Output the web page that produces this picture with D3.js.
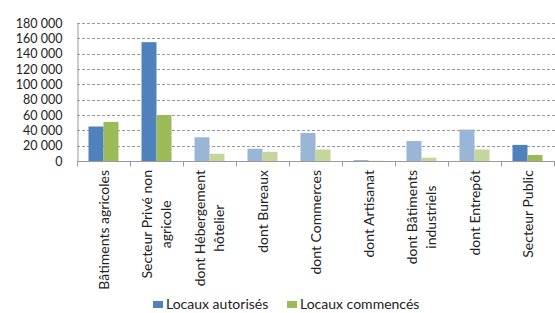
<!DOCTYPE html>
<html>
<head>
<meta charset="utf-8">
<script src="https://cdn.jsdelivr.net/npm/d3@7"></script>
<style>
  body { margin: 0; background: #fff; }
  svg { display: block; font-family: "Lato", "Liberation Sans", sans-serif; }
</style>
</head>
<body>
<div id="chart"></div>
<script>
// values
const categories = [
  ["Bâtiments agricoles"],
  ["Secteur Privé non", "agricole"],
  ["dont Hébergement", "hôtelier"],
  ["dont Bureaux"],
  ["dont Commerces"],
  ["dont Artisanat"],
  ["dont Bâtiments", "industriels"],
  ["dont Entrepôt"],
  ["Secteur Public"]
]
const autorises = [45000, 155000, 31000, 16000, 36500, 1300, 26000, 41000, 21000]
const commences = [51000, 60000, 9500, 12000, 15000, 300, 4300, 15000, 7800]
// "dont ..." rows are drawn hatched in the original
const detail = [false, false, true, true, true, true, true, true, false]
const yTicks = [0, 20000, 40000, 60000, 80000, 100000, 120000, 140000, 160000, 180000]
const seriesNames = ["Locaux autorisés", "Locaux commencés"]

const width = 555, height = 313
const margin = {left: 77, right: 1, top: 23, bottom: 152}

const svg = d3.select("#chart").append("svg")
    .attr("width", width)
    .attr("height", height)

const defs = svg.append("defs")
//dithered fill for the detail bars
function checker(id, dark, light) {
    const p = defs.append("pattern")
        .attr("id", id)
        .attr("width", 2).attr("height", 2)
        .attr("patternUnits", "userSpaceOnUse")
    p.append("rect").attr("width", 2).attr("height", 2).attr("fill", light)
    p.append("rect").attr("width", 1).attr("height", 1).attr("fill", dark)
    p.append("rect").attr("x", 1).attr("y", 1).attr("width", 1).attr("height", 1).attr("fill", dark)
}
checker("patBlue", "#6790c2", "#cddbeb")
checker("patGreen", "#a5c168", "#e2ebcd")

const x = d3.scaleBand()
    .domain(d3.range(categories.length))
    .range([margin.left, width - margin.right])

const y = d3.scaleLinear()
    .domain([0, 180000])
    .range([height - margin.bottom, margin.top])

const fmt = v => d3.format(",")(v).replace(/,/g, " ")

//gridlines
svg.append("g")
    .selectAll("line")
    .data(yTicks.slice(1))
    .join("line")
    .attr("x1", margin.left).attr("x2", width)
    .attr("y1", d => Math.round(y(d)) + 0.5).attr("y2", d => Math.round(y(d)) + 0.5)
    .attr("stroke", "#9a9a9a")
    .attr("stroke-dasharray", "3,2")

//y axis
const yAxis = svg.append("g")
    .attr("transform", `translate(${margin.left + 0.5},0)`)
    .call(d3.axisLeft(y).tickValues(yTicks).tickFormat(fmt).tickSize(0).tickPadding(15))
yAxis.select(".domain").attr("stroke", "#9a9a9a")
yAxis.selectAll("text").attr("font-size", 12.5).attr("fill", "#222")
    .attr("font-family", "Lato, sans-serif")

//bars
const barW = 15
const groups = svg.append("g")
    .selectAll("g")
    .data(categories.map((c, i) => i))
    .join("g")
    .attr("transform", i => `translate(${x(i) + x.bandwidth() / 2},0)`)

groups.append("rect")
    .attr("x", -barW)
    .attr("width", barW)
    .attr("y", i => y(autorises[i]))
    .attr("height", i => y(0) - y(autorises[i]))
    .attr("fill", i => detail[i] ? "url(#patBlue)" : "#4f81bd")

groups.append("rect")
    .attr("x", 0)
    .attr("width", barW)
    .attr("y", i => y(commences[i]))
    .attr("height", i => y(0) - y(commences[i]))
    .attr("fill", i => detail[i] ? "url(#patGreen)" : "#9bbb59")

//x axis
const xAxis = svg.append("g")
    .attr("transform", `translate(0,${Math.round(y(0)) + 0.5})`)
xAxis.append("line")
    .attr("x1", margin.left).attr("x2", width)
    .attr("stroke", "#9a9a9a")
xAxis.selectAll(".tick")
    .data(d3.range(categories.length + 1))
    .join("line")
    .attr("class", "tick")
    .attr("x1", i => i === categories.length ? width - 0.5 : Math.round(x(i)) + 0.5)
    .attr("x2", i => i === categories.length ? width - 0.5 : Math.round(x(i)) + 0.5)
    .attr("y1", 0).attr("y2", 5)
    .attr("stroke", "#9a9a9a")

//rotated category labels
const lineH = 19
svg.append("g")
    .selectAll("text")
    .data(categories)
    .join("text")
    .attr("transform", (d, i) => `translate(${x(i) + x.bandwidth() / 2},170) rotate(-90)`)
    .attr("text-anchor", "end")
    .attr("font-size", 14)
    .attr("fill", "#222")
    .each(function (lines) {
        const t = d3.select(this)
        lines.forEach((l, k) => {
            t.append("tspan")
                .attr("x", 0)
                .attr("y", (k - (lines.length - 1) / 2) * lineH + 5)
                .text(l)
        })
    })
    .attr("text-anchor", "middle")
    .each(function () {
        //Excel centers each line inside the label block, block is top aligned at y=170
        const bb = this.getBBox()
        d3.select(this).selectAll("tspan").attr("x", -bb.width / 2)
    })

//legend
const legend = svg.append("g")
const legX = [153, 287]
seriesNames.forEach((name, i) => {
    legend.append("rect")
        .attr("x", legX[i]).attr("y", 301)
        .attr("width", 10).attr("height", 7)
        .attr("fill", i === 0 ? "#4f81bd" : "#9bbb59")
    legend.append("text")
        .attr("x", legX[i] + 13).attr("y", 309)
        .attr("font-size", 14)
        .attr("fill", "#222")
        .text(name)
})
</script>
</body>
</html>
